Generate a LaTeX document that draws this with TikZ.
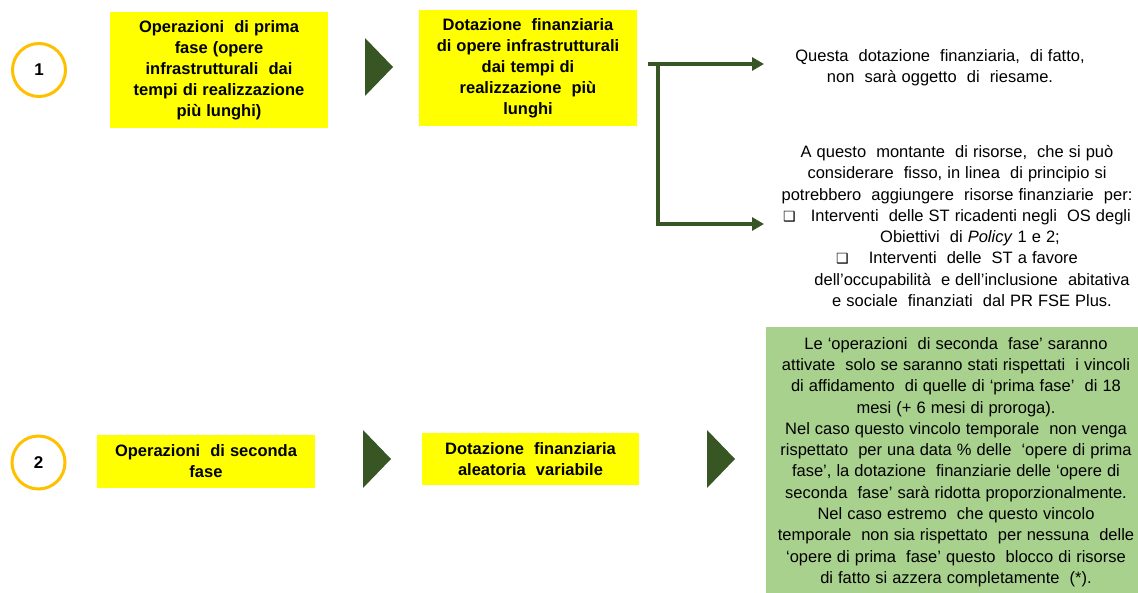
\documentclass[tikz,border=0pt]{standalone}
\usepackage{fontspec}
\setmainfont{Liberation Sans}[WordSpace=1.1]
\newfontfamily\dejavu{DejaVu Sans}
\usetikzlibrary{arrows.meta}
\definecolor{ylw}{HTML}{FFFF00}
\definecolor{dkgreen}{HTML}{375623}
\definecolor{ltgreen}{HTML}{A9D18E}
\definecolor{gold}{HTML}{FFC000}
\newcommand{\bx}{{\dejavu\fontsize{14}{14}\selectfont ❑}}
\begin{document}
\begin{tikzpicture}[x=1pt,y=-1pt,
  numcircle/.style={circle,draw=gold,line width=3pt,minimum size=53pt,inner sep=0pt,
    font=\fontsize{17}{17}\selectfont\bfseries},
  ybox/.style={rectangle,fill=ylw,inner sep=0pt,align=center,
    font=\fontsize{16.5}{21}\selectfont\bfseries},
  plain/.style={inner sep=0pt,align=center,font=\fontsize{16.5}{21.3}\selectfont},
  chev/.style={fill=dkgreen},
  brk/.style={draw=dkgreen,line width=4pt,-{Triangle[length=12pt,width=13pt]}}
]
\useasboundingbox (0,0) rectangle (1138,592);
\fill[white] (0,0) rectangle (1138,592);

% row 1
\node[numcircle] (c1) at (39,70) {1};
\node[ybox,minimum width=218pt,minimum height=116pt] (b1) at (219,70)
  {Operazioni\ \ di prima\\fase (opere\\infrastrutturali\ \ dai\\tempi di realizzazione\\più lunghi)};
\fill[chev] (365,38) -- (393,67) -- (365,96) -- cycle;
\node[ybox,minimum width=218pt,minimum height=116pt] (b2) at (528,68)
  {Dotazione\ \ finanziaria\\di opere infrastrutturali\\dai tempi di\\realizzazione\ \ più\\lunghi};

\coordinate (bs) at (648,64);
\coordinate (bv) at (658,64);
\coordinate (bb) at (658,224);
\coordinate (e1) at (764,64);
\coordinate (e2) at (764,224);
\draw[brk] (bs) -- (e1);
\draw[brk,line join=miter] (bv) -- (bb) -- (e2);

\node[plain] (q1) at (940,68)
  {Questa\ \ dotazione\ \ finanziaria,\ \ di fatto,\\non\ \ sarà oggetto\ \ di\ \ riesame.};
\node[plain] (q2) at (957,226)
  {A questo\ \ montante\ \ di risorse,\ \ che si può\\
   considerare\ \ fisso, in linea\ \ di principio si\\
   potrebbero\ \ aggiungere\ \ risorse finanziarie\ \ per:\\
   \bx\ \ \ Interventi\ \ delle ST ricadenti negli\ \ OS degli\\
   \hspace*{26pt}Obiettivi\ \ di \textit{Policy} 1 e 2;\\
   \bx\ \ \ \ Interventi\ \ delle\ \ ST a favore\\
   \hspace*{30pt}dell’occupabilità\ \ e dell’inclusione\ \ abitativa\\
   \hspace*{30pt}e sociale\ \ finanziati\ \ dal PR FSE Plus.};

% row 2
\node[numcircle] (c2) at (38.5,462.5) {2};
\node[ybox,minimum width=218pt,minimum height=53pt] (b3) at (206,461.5)
  {Operazioni\ \ di seconda\\fase};
\fill[chev] (363,430) -- (391,459) -- (363,488) -- cycle;
\node[ybox,minimum width=217pt,minimum height=52pt] (b4) at (530.5,459)
  {Dotazione\ \ finanziaria\\aleatoria\ \ variabile};
\fill[chev] (707,430) -- (735,459) -- (707,488) -- cycle;

\node[rectangle,fill=ltgreen,minimum width=384pt,minimum height=273pt,inner sep=0pt] (g) at (958,463.5) {};
\node[plain] (gt) at (956,462)
  {Le ‘operazioni\ \ di seconda\ \ fase’ saranno\\
   attivate\ \ solo se saranno stati rispettati\ \ i vincoli\\
   di affidamento\ \ di quelle di ‘prima fase’\ \ di 18\\
   mesi (+ 6 mesi di proroga).\\
   Nel caso questo vincolo temporale\ \ non venga\\
   rispettato\ \ per una data \% delle\ \ ‘opere di prima\\
   fase’, la dotazione\ \ finanziarie delle ‘opere di\\
   seconda\ \ fase’ sarà ridotta proporzionalmente.\\
   Nel caso estremo\ \ che questo vincolo\\
   temporale\ \ non sia rispettato\ \ per nessuna\ \ delle\\
   ‘opere di prima\ \ fase’ questo\ \ blocco di risorse\\
   di fatto si azzera completamente\ \ (*).};
\end{tikzpicture}
\end{document}
